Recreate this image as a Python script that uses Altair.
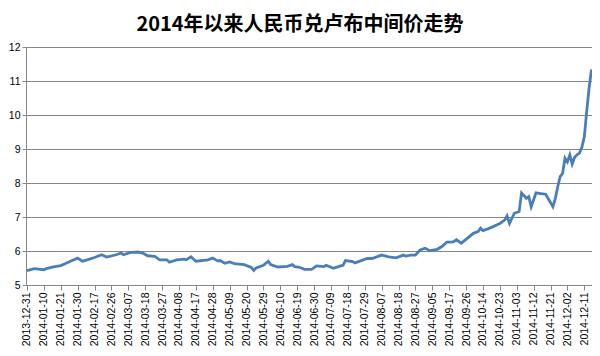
import altair as alt
import pandas as pd

# trading-day index (category position) and CNY per 100 RUB central parity
day_index = [0, 3, 7, 8, 11, 14, 16, 18, 21, 23, 25, 28, 31, 33, 37, 39, 40, 43, 46, 48,
             50, 53, 55, 58, 59, 62, 65, 66, 68, 70, 75, 77, 79, 80, 82, 84, 86, 90, 93, 94,
             95, 98, 100, 101, 104, 108, 110, 111, 113, 115, 118, 120, 123, 124, 127, 130, 131, 132, 135, 136,
             141, 143, 147, 150, 153, 156, 157, 159, 161, 163, 165, 167, 170, 172, 174, 176, 177, 178, 180, 183,
             185, 187, 188, 189, 191, 193, 196, 198, 199, 200, 202, 204, 205, 207, 208, 209, 211, 213, 215, 218,
             219, 220, 221, 222, 223, 224, 225, 226, 227, 228, 229, 230, 231, 232, 233, 234]
rate = [5.42, 5.48, 5.45, 5.48, 5.53, 5.57, 5.63, 5.70, 5.79, 5.70, 5.74, 5.81, 5.89, 5.82, 5.89, 5.94, 5.89, 5.96, 5.97, 5.94,
        5.86, 5.84, 5.74, 5.74, 5.67, 5.74, 5.76, 5.74, 5.83, 5.70, 5.74, 5.79, 5.71, 5.72, 5.64, 5.68, 5.63, 5.60, 5.52, 5.43,
        5.50, 5.58, 5.70, 5.60, 5.53, 5.55, 5.60, 5.54, 5.52, 5.46, 5.46, 5.56, 5.54, 5.58, 5.49, 5.56, 5.58, 5.72, 5.69, 5.65,
        5.78, 5.78, 5.88, 5.83, 5.80, 5.88, 5.85, 5.88, 5.88, 6.03, 6.08, 6.01, 6.05, 6.13, 6.26, 6.26, 6.28, 6.33, 6.23, 6.40,
        6.52, 6.57, 6.67, 6.60, 6.65, 6.71, 6.81, 6.91, 7.03, 6.81, 7.11, 7.16, 7.71, 7.55, 7.60, 7.30, 7.71, 7.69, 7.67, 7.30,
        7.55, 7.89, 8.19, 8.28, 8.73, 8.62, 8.83, 8.56, 8.76, 8.83, 8.88, 9.05, 9.35, 10.10, 10.80, 11.34]

tick_positions = [0, 7, 14, 21, 28, 35, 42, 49, 56, 63, 70, 77, 84, 91, 98, 105, 112,
                  119, 126, 133, 140, 147, 154, 161, 168, 175, 182, 189, 196, 203, 210, 217, 224, 231]
tick_labels = ["2013-12-31", "2014-01-10", "2014-01-21", "2014-01-30", "2014-02-17", "2014-02-26",
               "2014-03-07", "2014-03-18", "2014-03-27", "2014-04-08", "2014-04-17", "2014-04-28",
               "2014-05-09", "2014-05-20", "2014-05-29", "2014-06-10", "2014-06-19", "2014-06-30",
               "2014-07-09", "2014-07-18", "2014-07-29", "2014-08-07", "2014-08-18", "2014-08-27",
               "2014-09-05", "2014-09-17", "2014-09-26", "2014-10-14", "2014-10-23", "2014-11-03",
               "2014-11-12", "2014-11-21", "2014-12-02", "2014-12-11"]
y_ticks = [5, 6, 7, 8, 9, 10, 11, 12]

df = pd.DataFrame({"i": day_index, "v": rate})

label_map = "{" + ",".join(f"'{p}':'{s}'" for p, s in zip(tick_positions, tick_labels)) + "}"
label_expr = f"{label_map}[''+datum.value]"

grey = "#868686"

chart = alt.Chart(df).mark_line(color="#4a7ebb", strokeWidth=2.8).encode(
    x=alt.X("i:Q",
            scale=alt.Scale(domain=[-0.4, 234.2], nice=False, zero=False),
            axis=alt.Axis(values=tick_positions, labelExpr=label_expr, labelAngle=270,
                          title=None, grid=False, domainColor=grey, tickColor=grey,
                          tickSize=5, labelPadding=2, labelFontSize=10.5,
                          labelFont="Liberation Sans", labelColor="#000000",
                          labelOverlap=False, labelBound=False, labelFlush=False)),
    y=alt.Y("v:Q",
            scale=alt.Scale(domain=[5, 12], nice=False, zero=False),
            axis=alt.Axis(values=y_ticks, title=None, grid=True, gridColor=grey,
                          gridWidth=1, domainColor=grey, tickColor=grey, tickSize=4,
                          labelPadding=2, labelFontSize=10.5, labelFont="Liberation Sans",
                          labelColor="#000000")),
).properties(
    width=566,
    height=238,
    autosize=alt.AutoSizeParams(type="none"),
    padding={"left": 18, "top": 39, "right": 0, "bottom": 63},
    title=alt.TitleParams(
        "2014年以来人民币兑卢布中间价走势",
        font="Noto Sans CJK SC", fontSize=20, fontWeight="bold", color="#000000",
        anchor="middle", frame="group", dx=-9, offset=7,
    ),
).configure_view(stroke=None)

chart.save("out.html", embed_options={"renderer": "svg", "actions": False})
